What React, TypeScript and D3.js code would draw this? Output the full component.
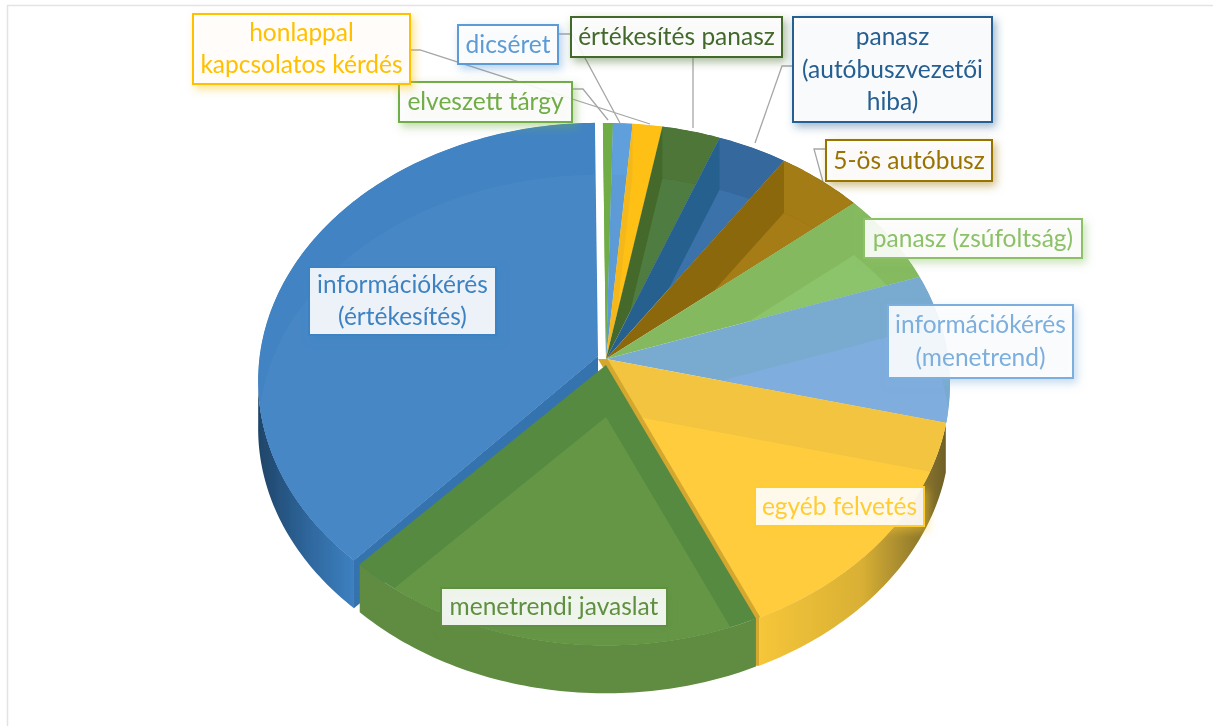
import React, { useMemo } from "react";
import * as d3 from "d3";

const categories = ["elveszett tárgy","dicséret","honlappal kapcsolatos kérdés","értékesítés panasz","panasz (autóbuszvezetői hiba)","5-ös autóbusz","panasz (zsúfoltság)","információkérés (menetrend)","egyéb felvetés","menetrendi javaslat","információkérés (értékesítés)"];
const values = [0.51,1.0,1.53,3.0,3.6,4.47,5.72,9.2,14.44,18.64,37.88];
const bandColors = ["#6DAB45","#5B9BD5","#F4B81A","#44692C","#27608F","#8C680D","#84B95E","#79ABD0","#F2C43F","#568A41","#4484C3"];
const rimColors = ["#70AD47","#5F9FDB","#FFC012","#4E7638","#35699D","#A37C14","#85BA5F","#79ABD0","#F2C43F","#568A41","#4384C3"];
const wedgeColors = ["#70AD47","#5B9BD5","#FFC012","#507C3F","#3A72A9","#A57C16","#8CC46C","#7FADDE","#FFCC3D","#659645","#4687C6"];
const sideStart = ["#70AD47","#5B9BD5","#FFC012","#4E7A35","#34699D","#A57C16","#8CC168","#7FADDE","#F6C63A","#5F8C40","#1F4468"];
const sideMid = ["#70AD47","#5B9BD5","#FFC012","#4E7A35","#34699D","#A57C16","#8CC168","#7FADDE","#D9B034","#5F8C40","#2F689F"];
const sideEnd = ["#70AD47","#5B9BD5","#FFC012","#4E7A35","#34699D","#A57C16","#8CC168","#7FADDE","#6E6028","#5F8C40","#3D80C0"];
const labelLines = [["elveszett tárgy"],["dicséret"],["honlappal","kapcsolatos kérdés"],["értékesítés panasz"],["panasz","(autóbuszvezetői","hiba)"],["5-ös autóbusz"],["panasz (zsúfoltság)"],["információkérés","(menetrend)"],["egyéb felvetés"],["menetrendi javaslat"],["információkérés","(értékesítés)"]];
const labelColors = ["#70AD47","#5B9BD5","#FFC000","#43682B","#255E91","#997300","#8CC168","#7CAFDD","#FFCD33","#5F8F3F","#3E83C3"];
const labelBoxes = [[399,82,572,122],[458,25,558,64],[193,14,410,84],[571,17,782,57],[793,17,992,122],[826,140,992,181],[864,219,1082,258],[888,305,1073,378],[755,487,924,526],[441,588,667,626],[309,267,496,335]];
const leaderLines = [
  [[572,89],[583,89],[608,120]],
  [[558,34],[572,34],[620,123]],
  [[410,50],[420,50],[650,124]],
  [[693,57],[693,128]],
  [[793,66],[782,66],[755,143]],
  [[826,149],[814,149],[823,182]],
];

const W = 1213, H = 726;
const CX = 606, CY = 359, RX = 342.4, RY = 258.6, K = 0.0958, DEPTH = 48, INNER_SHIFT = 52;
const START = -0.01;
const BLUE = 10, GREEN = 9, YELLOW = 8;
const off = (i: number) =>
  i === BLUE ? { ox: -8, oy: -3, r: 0.988, da: -0.017 }
  : i === GREEN ? { ox: 0, oy: 6, r: 0.98, da: 0 }
  : { ox: 0, oy: 0, r: 1, da: 0 };

function project(theta: number, r: number, ox = 0, oy = 0): [number, number] {
  const s = Math.sin(theta) * r, c = Math.cos(theta);
  const w = 1 + K * c;
  return [CX + ox + (RX * s) / w, CY + oy - (RY * c * r) / w];
}
function arcPts(a0: number, a1: number, r: number, ox = 0, oy = 0) {
  const n = Math.max(4, Math.ceil((a1 - a0) * 60));
  return d3.range(n + 1).map((i) => project(a0 + ((a1 - a0) * i) / n, r, ox, oy));
}
const line = d3.line();
const down = (p: [number, number][], d: number) => p.map(([x, y]) => [x, y + d] as [number, number]);

export default function App() {
  const arcs = useMemo(() => d3.pie<number>().sort(null).startAngle(START).endAngle(START + 2 * Math.PI)(values), []);
  const order = [10, 0, 1, 2, 3, 4, 5, 6, 7, 9, 8];
  return (
    <svg width={W} height={H} style={{ position: "absolute", left: 0, top: 0, fontFamily: "Lato" }}>
      <defs>
        <filter id="soft" x="0" y="0" width="100%" height="100%" filterUnits="userSpaceOnUse">
          <feGaussianBlur stdDeviation="0.55" />
        </filter>
        {arcs.map((a, i) => {
          const { ox, oy, r, da } = off(i);
          const face = [[CX + ox, CY + oy] as [number, number], ...arcPts(a.startAngle + da, a.endAngle, r, ox, oy)];
          return (
            <React.Fragment key={i}>
              <clipPath id={`face${i}`}><path d={line(face)! + "Z"} /></clipPath>
              <linearGradient id={`side${i}`} x1="0" x2="1" y1="0" y2="0">
                <stop offset="0" stopColor={sideStart[i]} />
                <stop offset="0.55" stopColor={sideMid[i]} />
                <stop offset="1" stopColor={sideEnd[i]} />
              </linearGradient>
            </React.Fragment>
          );
        })}
        {labelColors.map((c, i) => (
          <filter key={i} id={`sh${i}`} x="-20%" y="-30%" width="140%" height="170%">
            <feDropShadow dx="3" dy="4" stdDeviation="4" floodColor={c} floodOpacity="0.5" />
          </filter>
        ))}
      </defs>
      <rect x={0} y={0} width={W} height={H} fill="#fff" />
      <path d={`M7.5 ${H}V5.5H${W}`} fill="none" stroke="#e3e3e3" strokeWidth={1.5} />

      <g filter="url(#soft)">
        {leaderLines.map((l, i) => (
          <path key={i} d={line(l as [number, number][])!} fill="none" stroke="#a6a6a6" strokeWidth={1.3} />
        ))}

        {order.map((i) => {
          const a = arcs[i];
          const { ox, oy, r, da } = off(i);
          const top = arcPts(a.startAngle + da, a.endAngle, r, ox, oy);
          const apex: [number, number] = [CX + ox, CY + oy];
          const face = [apex, ...top];
          const a0 = Math.max(a.startAngle + da, Math.PI / 2 + 0.25);
          const a1 = Math.min(a.endAngle, (3 * Math.PI) / 2 - 0.08);
          let wall: [number, number][] | null = null;
          if (a1 > a0) {
            const t = arcPts(a0, a1, r, ox, oy);
            wall = [...t, ...down(t, DEPTH).reverse()];
          }
          const rim = [...top, ...down(top, INNER_SHIFT).reverse()];
          const cut = i === BLUE ? [apex, top[0], ...down([top[0], apex], DEPTH)] : null;
          // gold cut face of the yellow slice: sits under the green slice and closes the seam between them
          let seam: [number, number][] | null = null;
          let edge: [number, number][] | null = null;
          if (i === GREEN) {
            const y = arcs[YELLOW];
            const c = project(y.endAngle, 1);
            const ya: [number, number] = [CX, CY];
            seam = [ya, c, [c[0], c[1] + DEPTH], [c[0] - 8, c[1] + DEPTH], [c[0] - 8, c[1]], [CX - 8, CY]];
          }
          if (i === YELLOW) edge = [apex, top[top.length - 1]];
          return (
            <g key={i}>
              {seam && <path d={line(seam)! + "Z"} fill="#D4A72F" />}
              {wall && <path d={line(wall)! + "Z"} fill={`url(#side${i})`} />}
              {cut && <path d={line(cut)! + "Z"} fill="#3573AE" />}
              <path d={line(face)! + "Z"} fill={bandColors[i]} />
              <path d={line(rim)! + "Z"} fill={rimColors[i]} clipPath={`url(#face${i})`} />
              <path d={line(down(face, INNER_SHIFT))! + "Z"} fill={wedgeColors[i]} clipPath={`url(#face${i})`} />
              {edge && <path d={line(edge)!} stroke="#D4A72F" strokeWidth={2.5} fill="none" />}
            </g>
          );
        })}

        {labelLines.map((lines, i) => {
          const [x0, y0, x1, y1] = labelBoxes[i];
          const mx = (x0 + x1) / 2, my = (y0 + y1) / 2;
          const lh = 32.5;
          return (
            <g key={i}>
              <rect x={x0} y={y0} width={x1 - x0} height={y1 - y0} fill="#fff" fillOpacity={0.88} stroke={labelColors[i]}
                strokeWidth={2} filter={`url(#sh${i})`} />
              <text x={mx} textAnchor="middle" fontSize={24.5} fill={labelColors[i]}>
                {lines.map((t, j) => (
                  <tspan key={j} x={mx} y={my + (j - (lines.length - 1) / 2) * lh + 8}>{t}</tspan>
                ))}
              </text>
            </g>
          );
        })}
      </g>
    </svg>
  );
}
